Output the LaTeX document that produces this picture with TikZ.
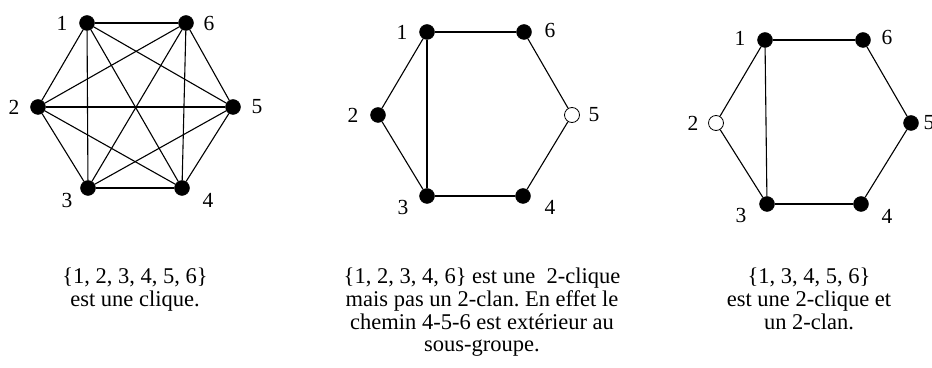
\documentclass[tikz,border=0pt]{standalone}
\usepackage{fontspec}
\setmainfont{Liberation Serif}
\tikzset{
  vertex/.style  = {circle, draw, fill=black, inner sep=0pt, minimum size=15pt},
  overtex/.style = {circle, draw, line width=0.8pt, fill=white, inner sep=0pt, minimum size=15pt},
  link/.style    = {line width=1.1pt},
  lbl/.style     = {inner sep=0pt, font=\fontsize{21.5}{22}\selectfont},
  note/.style    = {align=center, inner sep=0pt, anchor=north,
                    font=\fontsize{22.5}{22.7}\selectfont\frenchspacing},
}
\begin{document}
\begin{tikzpicture}[x=1pt,y=1pt]
  \useasboundingbox (0,0) rectangle (932,367);
  % la clique
  \node[vertex] (a1) at (87,344) {};
  \node[vertex] (a2) at (38,260) {};
  \node[vertex] (a3) at (88,179) {};
  \node[vertex] (a4) at (182,179) {};
  \node[vertex] (a5) at (233,260) {};
  \node[vertex] (a6) at (186,344) {};
  \foreach \i/\j in {1/2,1/3,1/4,1/5,1/6,2/3,2/4,2/5,2/6,3/4,3/5,3/6,4/5,4/6,5/6}
    \draw[link] (a\i) -- (a\j);
  \node[lbl] (a1l) at (62,344) {1};
  \node[lbl] (a2l) at (14,260) {2};
  \node[lbl] (a3l) at (67,167) {3};
  \node[lbl] (a4l) at (208,167) {4};
  \node[lbl] (a5l) at (257,260) {5};
  \node[lbl] (a6l) at (209,344) {6};
  \node[note] (anote) at (135,99) {\{1, 2, 3, 4, 5, 6\}\\est une clique.};

  % 2-clique
  \node[vertex] (b1) at (427,335) {};
  \node[vertex] (b2) at (378,252) {};
  \node[vertex] (b3) at (427,171) {};
  \node[vertex] (b4) at (523,171) {};
  \node[overtex] (b5) at (572,252) {};
  \node[vertex] (b6) at (524,335) {};
  \foreach \i/\j in {1/6,6/5,5/4,4/3,3/2,2/1,1/3}
    \draw[link] (b\i) -- (b\j);
  \node[lbl] (b1l) at (402,335) {1};
  \node[lbl] (b2l) at (353,252) {2};
  \node[lbl] (b3l) at (403,160) {3};
  \node[lbl] (b4l) at (550,160) {4};
  \node[lbl] (b5l) at (594,252) {5};
  \node[lbl] (b6l) at (550,337) {6};
  \node[note] (bnote) at (482,99) {\{1, 2, 3, 4, 6\} est une\ \ 2-clique\\
    mais pas un 2-clan. En effet le\\chemin 4-5-6 est extérieur au\\sous-groupe.};

  % 2-clique et 2-clan
  \node[vertex] (c1) at (765,327) {};
  \node[overtex] (c2) at (716,244) {};
  \node[vertex] (c3) at (767,163) {};
  \node[vertex] (c4) at (861,163) {};
  \node[vertex] (c5) at (911,244) {};
  \node[vertex] (c6) at (863,327) {};
  \foreach \i/\j in {1/6,6/5,5/4,4/3,3/2,2/1,1/3}
    \draw[link] (c\i) -- (c\j);
  \node[lbl] (c1l) at (740,329) {1};
  \node[lbl] (c2l) at (693,244) {2};
  \node[lbl] (c3l) at (741,152) {3};
  \node[lbl] (c4l) at (887,151) {4};
  \node[lbl] (c5l) at (929,244) {5};
  \node[lbl] (c6l) at (887,330) {6};
  \node[note] (cnote) at (809,99) {\{1, 3, 4, 5, 6\}\\est une 2-clique et\\un 2-clan.};
\end{tikzpicture}
\end{document}
